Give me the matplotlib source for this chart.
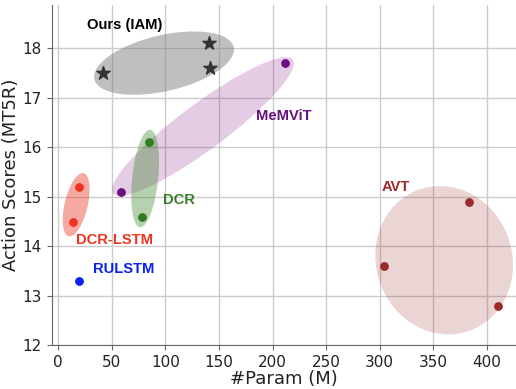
import matplotlib.pyplot as plt
from matplotlib.patches import Ellipse
from matplotlib.transforms import ScaledTranslation

# data: (#Param in M, action score)
iam_params = [42, 141, 142]
iam_scores = [17.5, 18.1, 17.6]
memvit_params = [59, 212]
memvit_scores = [15.1, 17.7]
dcr_params = [78, 85]
dcr_scores = [14.6, 16.1]
dcrlstm_params = [14, 20]
dcrlstm_scores = [14.5, 15.2]
rulstm_params = [20]
rulstm_scores = [13.3]
avt_params = [304, 383, 410]
avt_scores = [13.6, 14.9, 12.8]

x_ticks = [0, 50, 100, 150, 200, 250, 300, 350, 400]
y_ticks = [12, 13, 14, 15, 16, 17, 18]

fig = plt.figure(figsize=(5.16, 3.89), dpi=100)
ax = fig.add_axes([0.1, 0.112, 0.9, 0.876])

ax.set_xlim(-6, 427)
ax.set_ylim(12, 18.88)
ax.set_xticks(x_ticks)
ax.set_yticks(y_ticks)
ax.grid(True, color="#cccccc", linewidth=1)
ax.set_axisbelow(True)
for side in ["top", "right"]:
    ax.spines[side].set_visible(False)
for side in ["left", "bottom"]:
    ax.spines[side].set_color("#666666")
ax.tick_params(colors="#666666", labelcolor="#222222", labelsize=11, length=3.5)

# group ellipses: centre in data units, axes in pixels, angle in screen degrees
groups = [
    ((98.8, 17.7), 143, 56, 13, "gray", 0.5),
    ((135.2, 16.42), 224, 46, 36.6, "#800080", 0.2),
    ((81.2, 15.37), 98, 26, 84, "#2e7d1e", 0.35),
    ((16.9, 14.84), 65, 23, 76.7, "#e8321e", 0.42),
    ((360, 13.72), 150, 136, 110, "#992a2a", 0.2),
]
for (cx, cy), w, h, ang, col, a in groups:
    tr = fig.dpi_scale_trans + ScaledTranslation(cx, cy, ax.transData)
    ax.add_patch(Ellipse((0, 0), w / 100, h / 100, angle=ang, transform=tr,
                         facecolor=col, alpha=a, edgecolor="none", zorder=2))

ax.scatter(iam_params, iam_scores, marker="*", s=100, color="#333333", zorder=3)
ax.scatter(memvit_params, memvit_scores, s=28, color="#6a1080", zorder=3)
ax.scatter(dcr_params, dcr_scores, s=28, color="#2f7d1f", zorder=3)
ax.scatter(dcrlstm_params, dcrlstm_scores, s=28, color="#ee3322", zorder=3)
ax.scatter(rulstm_params, rulstm_scores, s=28, color="#0a22f0", zorder=3)
ax.scatter(avt_params, avt_scores, s=28, color="#9b2a2a", zorder=3)

lab = dict(fontsize=10.6, fontweight="bold", family="Liberation Sans", va="center", zorder=4)
ax.text(27, 18.47, "Ours (IAM)", color="black", **lab)
ax.text(185, 16.63, "MeMViT", color="#6a1080", **lab)
ax.text(97.8, 14.93, "DCR", color="#3a7d28", **lab)
ax.text(17.1, 14.12, "DCR-LSTM", color="#ee3322", **lab)
ax.text(32.6, 13.55, "RULSTM", color="#0a22f0", **lab)
ax.text(302, 15.2, "AVT", color="#9b2a2a", **lab)

ax.set_xlabel("#Param (M)", fontsize=13, color="#222222", labelpad=0)
ax.set_ylabel("Action Scores (MT5R)", fontsize=13, color="#222222", labelpad=2)

fig.savefig("out.png", dpi=100)
